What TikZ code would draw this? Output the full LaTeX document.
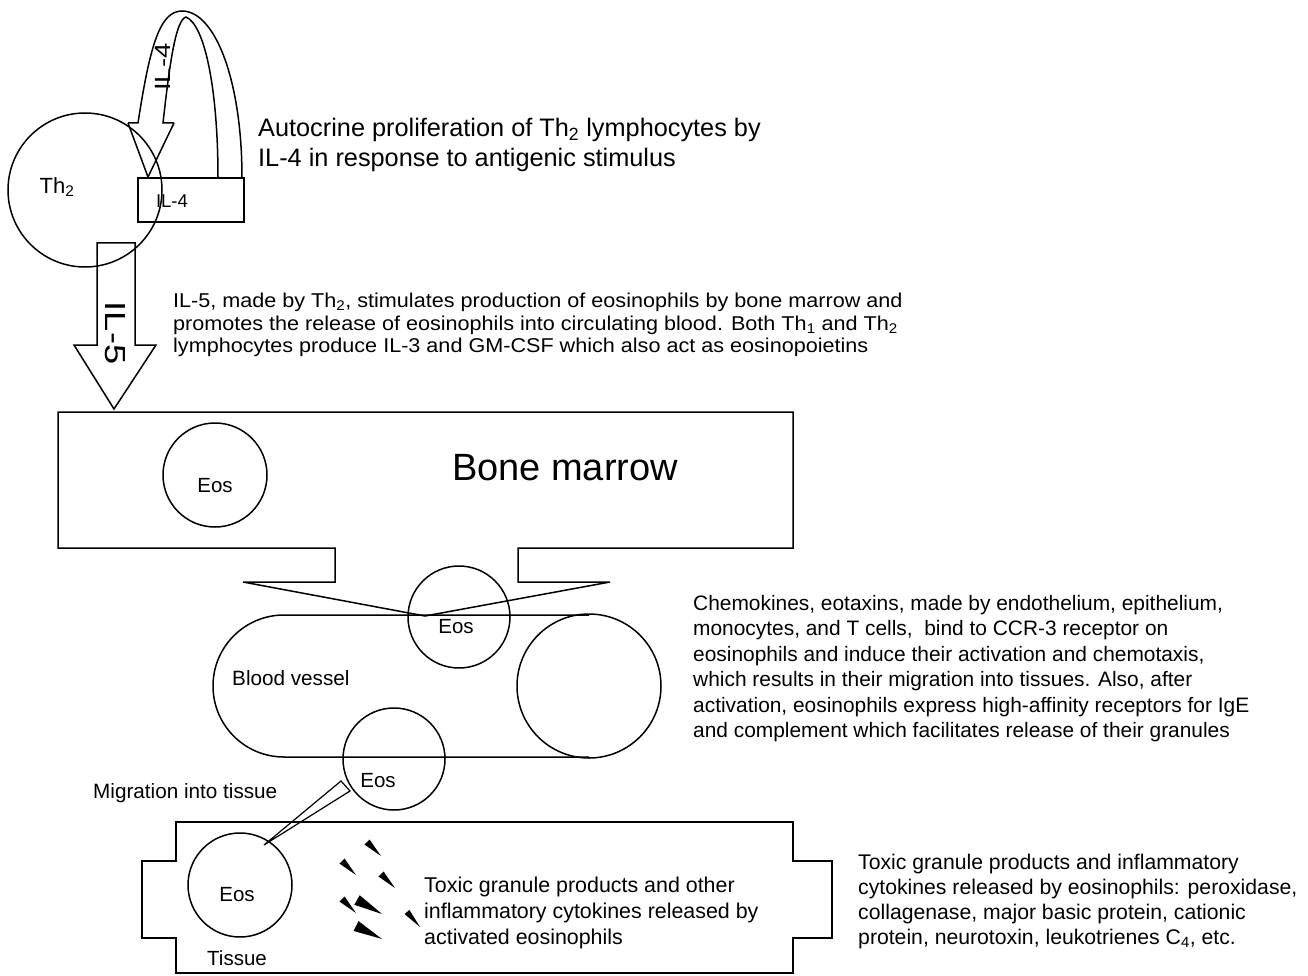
\documentclass[tikz,border=0pt]{standalone}
\usepackage{fontspec}
\setmainfont{Liberation Sans}
\newfontfamily\widefont[FakeStretch=1.08]{Liberation Sans}
\newfontfamily\longfont[FakeStretch=1.25]{Liberation Sans}
\usetikzlibrary{calc}
\begin{document}
\begin{tikzpicture}[x=1pt,y=-1pt,
  ln/.style={draw=black,line width=1.5pt,line join=miter},
  cell/.style={circle,draw=black,line width=1.5pt,inner sep=0pt},
  txt/.style={inner sep=0pt,align=left,anchor=north west},
  lbl/.style={inner sep=0pt},
  granule/.style={fill=black}]
\useasboundingbox[fill=white] (0,0) rectangle (1308,976);

% ---------- Th2 and IL-4 autocrine loop ----------
\node[cell,minimum size=154pt] (th2) at (85,190) {};
\node[lbl,font=\fontsize{22}{26}\selectfont] (th2t) at (57,187) {Th\textsubscript{2}};
\node[draw=black,line width=1.5pt,minimum width=106pt,minimum height=44pt,inner sep=0pt] (il4box) at (191,200) {};
\node[lbl,font=\fontsize{18.5}{22}\selectfont] (il4t) at (172,201) {IL-4};
\draw[ln] (128,123) -- (138,123)
   .. controls (150,45) and (160,11) .. (182,11)
   .. controls (215,11) and (242,80) .. (242,178);
\draw[ln] (174,123) -- (163,123)
   .. controls (170,60) and (176,20) .. (186,17)
   .. controls (205,25) and (218,90) .. (218,178);
\draw[ln] (128,123) -- (148,177) -- (174,123);
\node[lbl,rotate=90,font=\longfont\fontsize{22}{26}\selectfont] (il4arrow) at (163,67) {IL-4};

% ---------- IL-5 arrow ----------
\draw[ln] (97,243) -- (135,243) -- (135,345) -- (156,345) -- (114,409) -- (74,345) -- (97,345) -- cycle;
\node[lbl,rotate=-90,font=\longfont\fontsize{29}{30}\selectfont] (il5arrow) at (115,333) {IL-5};

\node[txt,font=\fontsize{25.3}{30}\selectfont] (auto) at (258,118)
  {Autocrine proliferation of Th\textsubscript{2} lymphocytes by\\IL-4 in response to antigenic stimulus};
\node[txt,font=\widefont\fontsize{20}{22.5}\selectfont] (il5text) at (173,293)
  {IL-5, made by Th\textsubscript{2}, stimulates production of eosinophils by bone marrow and\\
   promotes the release of eosinophils into circulating blood. Both Th\textsubscript{1} and Th\textsubscript{2}\\
   lymphocytes produce IL-3 and GM-CSF which also act as eosinopoietins};

% ---------- Bone marrow ----------
\draw[ln] (58,412) -- (793,412) -- (793,548) -- (518,548) -- (518,582) -- (610,582)
   -- (425,616) -- (243,582) -- (335,582) -- (335,548) -- (58,548) -- cycle;
\node[cell,minimum size=104pt] (eosbm) at (215,475) {};
\node[lbl,font=\fontsize{20.5}{24}\selectfont] (eosbmt) at (215,486) {Eos};
\node[lbl,font=\fontsize{38}{44}\selectfont] (bm) at (565,468) {Bone marrow};

% ---------- Blood vessel ----------
\draw[ln] (589,615) -- (284,615) arc[start angle=-90,end angle=-270,radius=71] -- (589,757);
\node[cell,minimum size=144pt] (vesselend) at (589,686) {};
\node[cell,minimum size=102pt] (eostop) at (459,617) {};
\node[lbl,font=\fontsize{20.5}{24}\selectfont] (eostopt) at (456,627) {Eos};
\node[lbl,font=\fontsize{20.7}{24}\selectfont,anchor=west] (bv) at (232,678) {Blood vessel};
\node[cell,minimum size=102pt] (eosbot) at (394,759) {};
\node[lbl,font=\fontsize{20.5}{24}\selectfont] (eosbott) at (378,781) {Eos};

\node[txt,font=\fontsize{20.9}{25.5}\selectfont] (chemo) at (693,595)
  {Chemokines, eotaxins, made by endothelium, epithelium,\\
   monocytes, and T cells,\ \ bind to CCR-3 receptor on\\
   eosinophils and induce their activation and chemotaxis,\\
   which results in their migration into tissues. Also, after\\
   activation, eosinophils express high-affinity receptors for IgE\\
   and complement which facilitates release of their granules};

\node[lbl,font=\fontsize{20.7}{24}\selectfont,anchor=west] (mig) at (93,793) {Migration into tissue};

% ---------- Tissue ----------
\draw[ln] (176,822) -- (793,822) -- (793,861) -- (832,861) -- (832,938) -- (793,938) -- (793,973)
   -- (176,973) -- (176,938) -- (142,938) -- (142,861) -- (176,861) -- cycle;
\node[cell,minimum size=104pt] (eostis) at (240,885) {};
\node[lbl,font=\fontsize{20.5}{24}\selectfont] (eostist) at (237,895) {Eos};
\node[lbl,font=\fontsize{20.5}{24}\selectfont] (tis) at (237,958) {Tissue};
\coordinate (tubeA) at (341,781);
\coordinate (tubeB) at (350,791);
\coordinate (tubeC) at (264,845);
\draw[ln,line width=1.2pt] (tubeA) -- (tubeB) -- (tubeC) -- cycle;

% granules
\foreach \px/\py/\qx/\qy/\w in {367/842/381/856/3.6, 342/861/356/875/3.6, 381/874/395/888/3.6,
    342/899/356/913/3.6, 357/900/382/914/5.5, 407/912/420/927/3.2, 356/926/382/939/5.5}{
  \fill[granule] ($(\px,\py)!\w pt!90:(\qx,\qy)$) -- ($(\px,\py)!\w pt!-90:(\qx,\qy)$) -- (\qx,\qy) -- cycle;
}

\node[txt,font=\fontsize{21.4}{26}\selectfont] (toxin) at (424,877)
  {Toxic granule products and other\\inflammatory cytokines released by\\activated eosinophils};
\node[txt,font=\fontsize{21.2}{25}\selectfont] (toxout) at (858,854)
  {Toxic granule products and inflammatory\\cytokines released by eosinophils: peroxidase,\\
   collagenase, major basic protein, cationic\\protein, neurotoxin, leukotrienes C\textsubscript{4}, etc.};
\end{tikzpicture}
\end{document}
